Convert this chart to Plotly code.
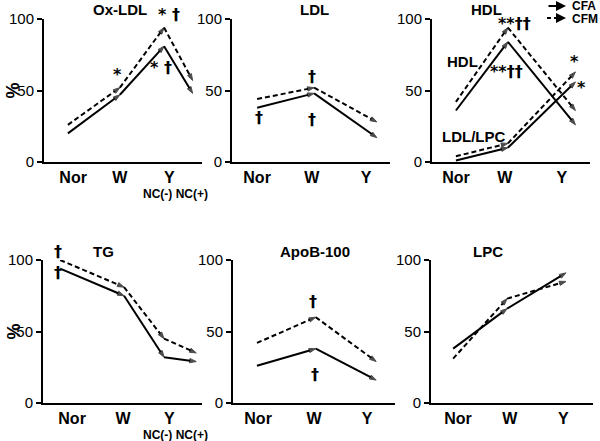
import plotly.graph_objects as go

W, H = 600, 441
FONT = "Liberation Sans, Arial, sans-serif"
DAG_FONT = "DejaVu Sans, Liberation Sans, sans-serif"

# values in % per group (Nor, W, Y[, NC(+)])
ox_x = [0, 1, 1.85, 2.4]
ox_cfa = [20, 47, 81, 48]
ox_cfm = [26, 52, 94, 57]

ldl_x = [0, 1, 2.1]
ldl_cfa = [38, 48, 17]
ldl_cfm = [44, 52, 28]

hdl_x = [0, 1, 2.3]
hdl_cfa = [36, 84, 26]
hdl_cfm = [42, 94, 36]
ldllpc_cfa = [1, 10, 56]
ldllpc_cfm = [4, 13, 63]

tg_x = [0, 1.23, 2.0, 2.62]
tg_cfa = [94, 75, 32, 29]
tg_cfm = [100, 81, 45, 35]

apo_x = [0, 1.03, 2.09]
apo_cfa = [26, 38, 16]
apo_cfm = [42, 60, 29]

lpc_x = [0, 1, 2.09]
lpc_cfa = [38, 66, 91]
lpc_cfm = [31, 73, 85]

groups = ["Nor", "W", "Y"]

panels = [
    dict(title="Ox-LDL", tx=120, box=(44, 202, 19, 162), xr=(-0.46, 2.58), tv=[0.1, 1, 1.95],
         series=[(ox_x, ox_cfa, "solid"), (ox_x, ox_cfm, "dash")], pct=True, nc=True,
         notes=[(0.96, 61, "*"), (1.94, 103, "* †"), (1.79, 66, "* †")]),
    dict(title="LDL", tx=314, box=(232, 390, 19, 162), xr=(-0.44, 2.33), tv=[0, 0.96, 1.91],
         series=[(ldl_x, ldl_cfa, "solid"), (ldl_x, ldl_cfm, "dash")],
         notes=[(0.04, 31, "†"), (0.96, 60, "†"), (0.96, 30, "†")]),
    dict(title="HDL", tx=486, box=(432, 590, 19, 162), xr=(-0.46, 2.58), tv=[0, 0.94, 2.04],
         series=[(hdl_x, hdl_cfa, "solid"), (hdl_x, hdl_cfm, "dash"),
                 (hdl_x, ldllpc_cfa, "solid"), (hdl_x, ldllpc_cfm, "dash")],
         notes=[(1.12, 97, "**††"), (0.98, 63, "**††"), (2.29, 70, "*"), (2.42, 52, "*"),
                (0.12, 70, "HDL"), (0.33, 18, "LDL/LPC")]),
    dict(title="TG", tx=103, box=(43, 202, 260, 403), xr=(-0.33, 2.73), tv=[0.23, 1.21, 2.1],
         series=[(tg_x, tg_cfa, "solid"), (tg_x, tg_cfm, "dash")], pct=True, nc=True,
         notes=[(-0.04, 106, "†"), (-0.04, 91, "†")]),
    dict(title="ApoB-100", tx=315, box=(233, 395, 260, 403), xr=(-0.42, 2.42), tv=[0.02, 1.0, 1.93],
         series=[(apo_x, apo_cfa, "solid"), (apo_x, apo_cfm, "dash")],
         notes=[(0.98, 71, "†"), (1.02, 20, "†")]),
    dict(title="LPC", tx=488, box=(431, 593, 260, 403), xr=(-0.41, 2.59), tv=[0.09, 1.05, 2.04],
         series=[(lpc_x, lpc_cfa, "solid"), (lpc_x, lpc_cfm, "dash")], notes=[]),
]


def fx(px):
    return px / W


def fy(py):
    return 1 - py / H


def note(x, y, text, size, family=FONT, **kw):
    return dict(x=x, y=y, xref="paper", yref="paper", text=text, showarrow=False,
                xanchor="center", yanchor="middle",
                font=dict(family=family, size=size, color="black"), **kw)


fig = go.Figure()
annos = []
shapes = []

for i, p in enumerate(panels, start=1):
    xa = "x" if i == 1 else f"x{i}"
    ya = "y" if i == 1 else f"y{i}"
    x0, x1, y0, y1 = p["box"]
    r0, r1 = p["xr"]
    for xs, ys, dash in p["series"]:
        sizes = [0] + [7] * (len(xs) - 1)
        fig.add_trace(go.Scatter(
            x=xs, y=ys, xaxis=xa, yaxis=ya, mode="lines+markers",
            line=dict(color="black", width=2, dash="5px,3px" if dash == "dash" else "solid"),
            marker=dict(symbol="arrow", size=sizes, angleref="previous", color="black",
                        line=dict(color="black", width=1)),
            showlegend=False, cliponaxis=False, hoverinfo="skip"))
    fig.update_layout(**{
        ("xaxis" if i == 1 else f"xaxis{i}"): dict(
            domain=[fx(x0), fx(x1)], range=[r0, r1], anchor=ya,
            showline=True, linewidth=2, linecolor="black", showgrid=False, zeroline=False,
            tickvals=p["tv"], ticktext=groups, ticks="", ticklabelstandoff=0,
            tickfont=dict(family=FONT, size=16, color="black", weight="bold")),
        ("yaxis" if i == 1 else f"yaxis{i}"): dict(
            domain=[fy(y1), fy(y0)], range=[0, 100], anchor=xa,
            showline=True, linewidth=2, linecolor="black", showgrid=False, zeroline=False,
            tickvals=[0, 50, 100], ticks="outside", ticklen=5, tickwidth=2, tickcolor="black",
            tickfont=dict(family=FONT, size=15, color="black")),
    })
    annos.append(note(fx(p["tx"]), fy(y0 - 9), f"<b>{p['title']}</b>", 15))
    # significance marks / labels, placed in paper space so they may sit above 100 %
    for nx, ny, t in p["notes"]:
        px_ = x0 + (nx - r0) / (r1 - r0) * (x1 - x0)
        py_ = y1 - ny / 100 * (y1 - y0)
        if t in ("HDL", "LDL/LPC"):
            annos.append(note(fx(px_), fy(py_), f"<b>{t}</b>", 15))
        else:
            annos.append(note(fx(px_), fy(py_), f"<b>{t}</b>", 16, family=DAG_FONT))
    if p.get("pct"):
        annos.append(note(fx(13), fy((y0 + y1) / 2), "<b>%</b>", 18, textangle=-90))
    if p.get("nc"):
        annos.append(note(fx(x1 - 27), fy(y1 + 32), "<b>NC(-) NC(+)</b>", 12))

# legend drawn as arrows
annos.append(dict(x=fx(566), y=fy(6), xref="paper", yref="paper", ax=-19, ay=0, text="",
                  showarrow=True, arrowhead=2, arrowsize=1, arrowwidth=2, arrowcolor="black"))
shapes.append(dict(type="line", xref="paper", yref="paper", x0=fx(547), x1=fx(560),
                   y0=fy(18), y1=fy(18), line=dict(color="black", width=2, dash="4px,3px")))
annos.append(dict(x=fx(566), y=fy(18), xref="paper", yref="paper", ax=-5, ay=0, text="",
                  showarrow=True, arrowhead=2, arrowsize=1, arrowwidth=2, arrowcolor="black"))
annos.append(note(fx(584), fy(6.5), "<b>CFA</b>", 12))
annos.append(note(fx(585), fy(19), "<b>CFM</b>", 12))

fig.update_layout(width=W, height=H, margin=dict(l=0, r=0, t=0, b=0, autoexpand=False),
                  paper_bgcolor="white", plot_bgcolor="white",
                  annotations=annos, shapes=shapes, font=dict(family=FONT))

# the page's default body margin would shift the 600x441 figure
fig.write_html("out.html", config={"displayModeBar": False},
               post_script="document.body.style.margin='0px';")
